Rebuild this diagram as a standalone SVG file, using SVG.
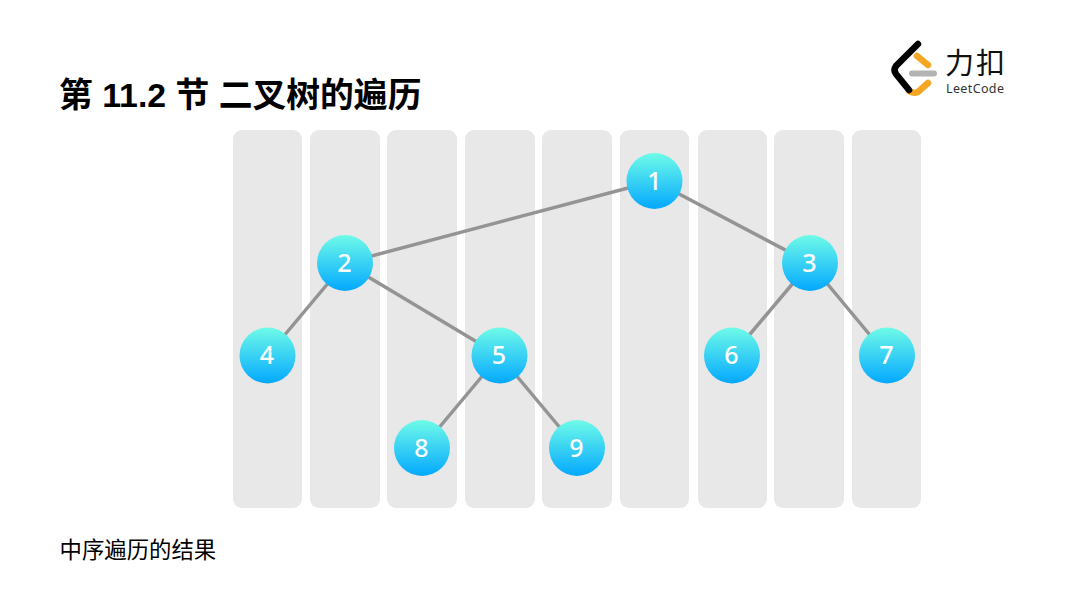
<svg xmlns="http://www.w3.org/2000/svg" width="1080" height="608" viewBox="0 0 1080 608">
<style>
.col{fill:#e8e8e8}
.edge{stroke:#949494;stroke-width:3.5;fill:none}
.c{fill:url(#g)}
.n{font-family:"Noto Sans","Open Sans",sans-serif;font-size:25px;font-weight:500;fill:#fff;text-anchor:middle}
.cjk{font-family:"Liberation Sans","Noto Sans CJK SC",sans-serif;fill:#000}
</style>
<defs>
<linearGradient id="g" x1="0" y1="0" x2="0" y2="1"><stop offset="0" stop-color="#6ffbe8"/><stop offset="1" stop-color="#03a8ff"/></linearGradient>
</defs>
<rect width="1080" height="608" fill="#fff"/>
<g id="columns">
<rect class="col" x="233" y="130" width="69" height="378" rx="9"/>
<rect class="col" x="310" y="130" width="70" height="378" rx="9"/>
<rect class="col" x="387" y="130" width="70" height="378" rx="9"/>
<rect class="col" x="465" y="130" width="70" height="378" rx="9"/>
<rect class="col" x="542" y="130" width="70" height="378" rx="9"/>
<rect class="col" x="620" y="130" width="69" height="378" rx="9"/>
<rect class="col" x="698" y="130" width="69" height="378" rx="9"/>
<rect class="col" x="774" y="130" width="70" height="378" rx="9"/>
<rect class="col" x="852" y="130" width="69" height="378" rx="9"/>
</g>
<g id="connectors">
<line class="edge" x1="654.5" y1="181" x2="345" y2="263"/>
<line class="edge" x1="654.5" y1="181" x2="810" y2="263"/>
<line class="edge" x1="345" y1="263" x2="267.5" y2="355.5"/>
<line class="edge" x1="345" y1="263" x2="499.5" y2="355.5"/>
<line class="edge" x1="810" y1="263" x2="732" y2="355.5"/>
<line class="edge" x1="810" y1="263" x2="887" y2="355.5"/>
<line class="edge" x1="499.5" y1="355.5" x2="422" y2="448"/>
<line class="edge" x1="499.5" y1="355.5" x2="577" y2="448"/>
</g>
<g id="node1"><circle class="c" cx="654.500" cy="181" r="28"/><text class="n" x="654.5" y="189.500">1</text></g>
<g id="node2"><circle class="c" cx="345" cy="263" r="28"/><text class="n" x="344.500" y="271.500">2</text></g>
<g id="node3"><circle class="c" cx="810" cy="263" r="28"/><text class="n" x="809.500" y="271.500">3</text></g>
<g id="node4"><circle class="c" cx="267.5" cy="355.5" r="28"/><text class="n" x="267" y="364">4</text></g>
<g id="node5"><circle class="c" cx="499.5" cy="355.5" r="28"/><text class="n" x="499" y="364">5</text></g>
<g id="node6"><circle class="c" cx="732" cy="355.5" r="28"/><text class="n" x="731.500" y="364">6</text></g>
<g id="node7"><circle class="c" cx="887" cy="355.5" r="28"/><text class="n" x="886.500" y="364">7</text></g>
<g id="node8"><circle class="c" cx="422" cy="448" r="28"/><text class="n" x="421.500" y="456.500">8</text></g>
<g id="node9"><circle class="c" cx="577" cy="448" r="28"/><text class="n" x="576.500" y="456.500">9</text></g>
<text class="cjk" x="59" y="107" font-size="33.800" font-weight="700">第 11.2 节 二叉树的遍历</text>
<text class="cjk" x="59.500" y="558" font-size="22.400">中序遍历的结果</text>
<g id="logo">
<path d="M917 56L928 65M928 83L918 92Q913 94 909 91" fill="none" stroke="#f5a623" stroke-width="6.500" stroke-linecap="round"/>
<path d="M918 44L896 66Q893 70 896 74L909 90" fill="none" stroke="#000" stroke-width="6.500" stroke-linecap="round"/>
<line x1="912" y1="73.500" x2="934" y2="73.500" stroke="#b3b3b3" stroke-width="6" stroke-linecap="round"/>
<text x="945" y="74" font-size="29" letter-spacing="2" font-family="'Noto Sans CJK SC',sans-serif" font-weight="400" fill="#111">力扣</text>
<text x="946" y="93" font-size="12.500" font-family="'Noto Sans',sans-serif" fill="#333" textLength="58">LeetCode</text>
</g>
</svg>
